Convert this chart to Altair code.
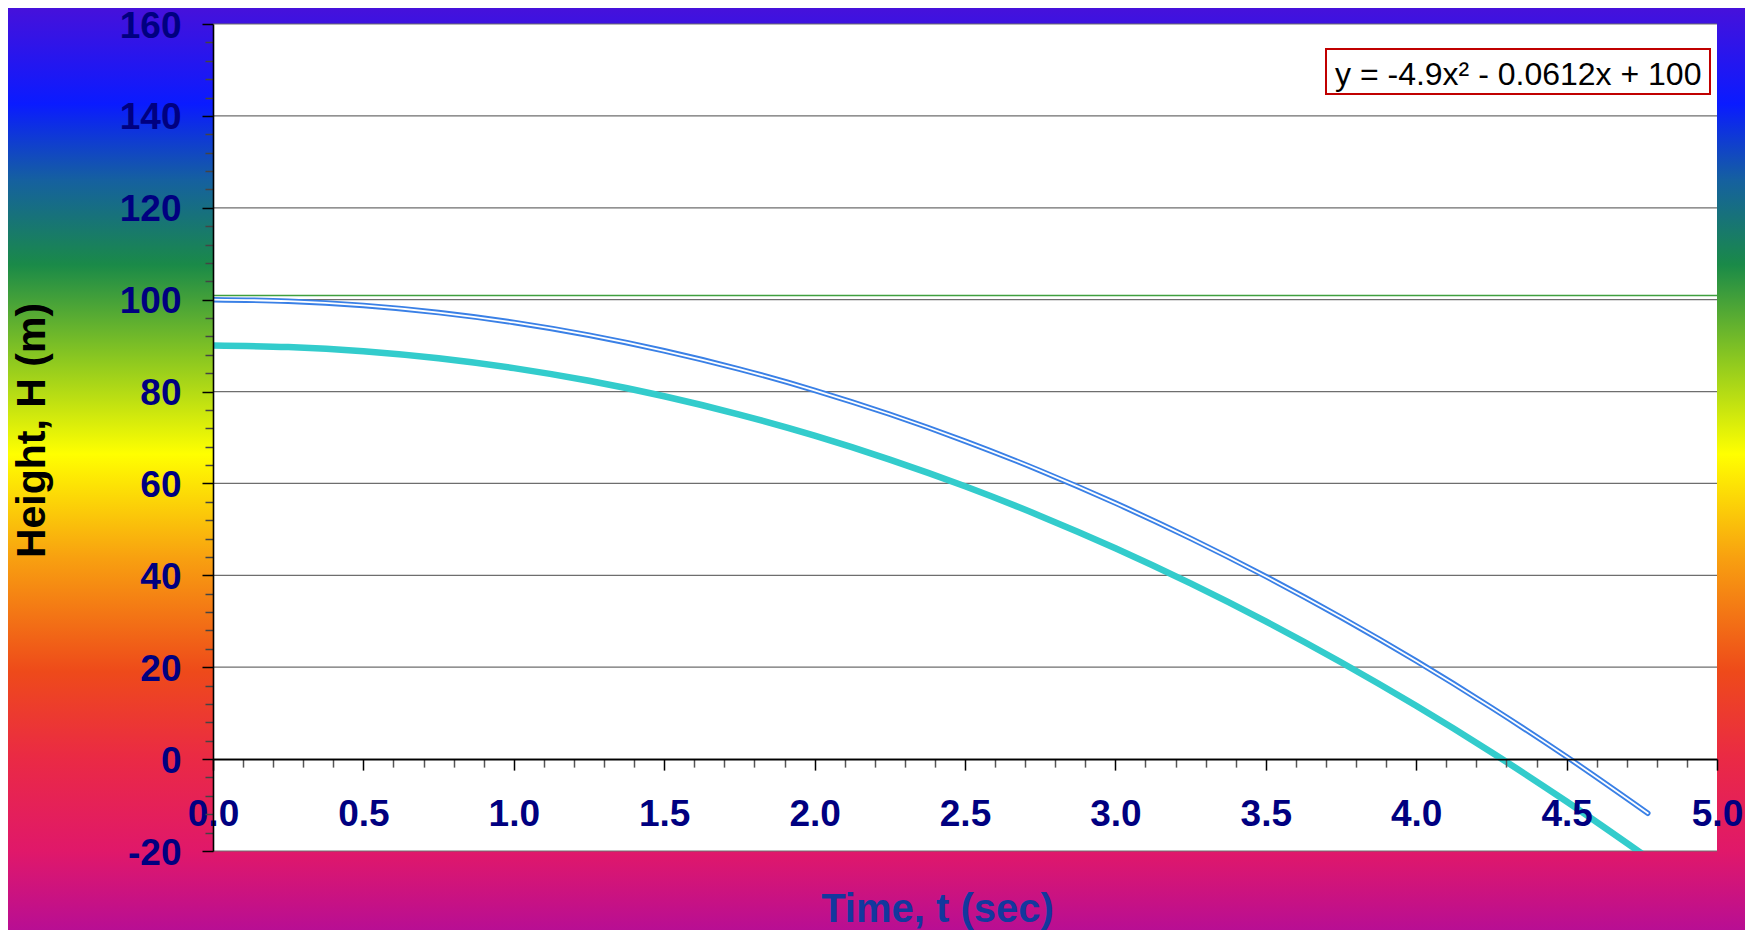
import altair as alt
import pandas as pd

# ---------------- data ----------------
time_blue = [0.0, 0.25, 0.5, 0.75, 1.0, 1.25, 1.5, 1.75, 2.0, 2.25, 2.5, 2.75,
             3.0, 3.25, 3.5, 3.75, 4.0, 4.25, 4.5, 4.77]
height_blue = [100.0, 99.68, 98.74, 97.20, 95.04, 92.27, 88.88, 84.89, 80.28, 75.06,
               69.22, 62.78, 55.72, 48.05, 39.76, 30.86, 21.36, 11.23, 0.50, -11.78]

time_cyan = [0.0, 0.25, 0.5, 0.75, 1.0, 1.25, 1.5, 1.75, 2.0, 2.25, 2.5, 2.75,
             3.0, 3.25, 3.5, 3.75, 4.0, 4.25, 4.5, 4.75]
height_cyan = [90.0, 89.69, 88.78, 87.24, 85.10, 82.34, 78.98, 74.99, 70.40, 65.19,
               59.38, 52.94, 45.90, 38.24, 29.98, 21.09, 11.60, 1.49, -9.23, -20.56]

green_level = [100.9]
grid_values = [-20, 0, 20, 40, 60, 80, 100, 120, 140, 160]
y_tick_values = list(range(-20, 161, 4))
x_tick_values = [round(i * 0.1, 1) for i in range(51)]
equation = "y = -4.9x\u00b2 - 0.0612x + 100"
x_title = "Time, t (sec)"
y_title = "Height, H (m)"

# ---------------- layout ----------------
W, H = 1504, 827
PAD_L, PAD_T = 205, 16
CANVAS_W, CANVAS_H = 1737, 922
FONT = "Liberation Sans"

xs = alt.Scale(domain=[0, 5], nice=False, zero=False)
ys = alt.Scale(domain=[-20, 160], nice=False, zero=False)
y_zero_px = H * 160 / 180

blue_df = pd.DataFrame({"t": time_blue, "h": height_blue})
cyan_df = pd.DataFrame({"t": time_cyan, "h": height_cyan})
grid_df = pd.DataFrame({"h": grid_values})
green_df = pd.DataFrame({"h": green_level})
one = pd.DataFrame({"k": [0]})

gradient = alt.Gradient(
    gradient="linear",
    x1=0, y1=0, x2=0, y2=1,
    stops=[
        alt.GradientStop(color="#4B10D8", offset=0.0),
        alt.GradientStop(color="#0A1BFF", offset=0.11),
        alt.GradientStop(color="#1560A0", offset=0.19),
        alt.GradientStop(color="#1A8A48", offset=0.28),
        alt.GradientStop(color="#8CC820", offset=0.38),
        alt.GradientStop(color="#FFFF00", offset=0.48),
        alt.GradientStop(color="#F8A010", offset=0.59),
        alt.GradientStop(color="#EE4A1A", offset=0.71),
        alt.GradientStop(color="#EA2A44", offset=0.80),
        alt.GradientStop(color="#E0186A", offset=0.90),
        alt.GradientStop(color="#B00C9C", offset=1.0),
    ],
)

x_major = "abs(datum.value*2 - round(datum.value*2)) < 0.001"
y_major = "datum.value % 20 === 0"

x_axis = alt.Axis(
    orient="bottom", offset=y_zero_px - H, values=x_tick_values,
    labelExpr=f"{x_major} ? format(datum.value, '.1f') : ''",
    labelOverlap=False, labelFlush=False, labelBound=False,
    labelFont=FONT, labelFontSize=37, labelFontWeight="bold", labelColor="#000080",
    labelPadding=26, labelBaseline="top",
    tickSize={"condition": {"test": x_major, "value": 11}, "value": 8},
    tickColor={"condition": {"test": x_major, "value": "#000000"}, "value": "#555555"},
    tickWidth=1.5,
    domainColor="#000000", domainWidth=1.6, grid=False,
    title=x_title, titleFont=FONT, titleFontSize=40, titleFontWeight="bold",
    titleColor="#13389E", titleX=724, titleY=(921 - 24) - y_zero_px,
    titleAlign="center", titleBaseline="alphabetic", titleAnchor="middle",
    zindex=1,
)

y_axis = alt.Axis(
    orient="left", values=y_tick_values,
    labelExpr=f"{y_major} ? ('' + datum.value) : ''",
    labelOverlap=False, labelFlush=False, labelBound=False,
    labelFont=FONT, labelFontSize=37, labelFontWeight="bold", labelColor="#000080",
    labelPadding=21, labelBaseline="middle", labelOffset=2,
    tickSize={"condition": {"test": y_major, "value": 11}, "value": 8},
    tickColor={"condition": {"test": y_major, "value": "#000000"}, "value": "#444444"},
    tickWidth=1.5,
    domainColor="#000000", domainWidth=1.6, grid=False,
    title=y_title, titleFont=FONT, titleFontSize=41, titleFontWeight="bold",
    titleColor="#000000", titleAngle=270, titleX=44 - 213, titleY=430 - 24,
    titleAlign="center", titleBaseline="alphabetic", titleAnchor="middle",
    zindex=1,
)

X = alt.X("t:Q", scale=xs, axis=x_axis)
Y = alt.Y("h:Q", scale=ys, axis=y_axis)

bg = alt.Chart(one).mark_rect(color=gradient).encode(
    x=alt.value(-PAD_L - 8), x2=alt.value(CANVAS_W - PAD_L + 16),
    y=alt.value(-PAD_T - 8), y2=alt.value(CANVAS_H - PAD_T + 16),
)

plot_bg = alt.Chart(one).mark_rect(color="white").encode(
    x=alt.value(0), x2=alt.value(W), y=alt.value(0), y2=alt.value(H)
)

grid = alt.Chart(grid_df).mark_rule(color="#6E6E6E", strokeWidth=1.2).encode(
    y=Y, x=alt.value(0), x2=alt.value(W),
)

green = alt.Chart(green_df).mark_rule(color="#3FA03F", strokeWidth=1.6).encode(
    y=Y, x=alt.value(0), x2=alt.value(W),
)

cyan = alt.Chart(cyan_df).mark_line(
    color="#33CCCC", strokeWidth=6.5, interpolate="monotone", clip=True,
    strokeCap="butt", strokeJoin="round"
).encode(x=X, y=Y)

blue_outer = alt.Chart(blue_df).mark_line(
    color="#3A80E6", strokeWidth=5.5, interpolate="monotone", clip=True,
    strokeCap="round", strokeJoin="round"
).encode(x=X, y=Y)

blue_inner = alt.Chart(blue_df).mark_line(
    color="white", strokeWidth=1.8, interpolate="monotone", clip=True,
    strokeCap="round", strokeJoin="round"
).encode(x=X, y=Y)

eq_box = alt.Chart(one).mark_rect(
    fill="white", stroke="#C00000", strokeWidth=2
).encode(
    x=alt.value(1326 - 213), x2=alt.value(1710 - 213),
    y=alt.value(49 - 24), y2=alt.value(94 - 24),
)

eq_text = alt.Chart(one).mark_text(
    text=equation, font=FONT, fontSize=32, color="#000000",
    align="left", baseline="alphabetic"
).encode(
    x=alt.value(1335 - 213), y=alt.value(84.5 - 24),
)

chart = alt.layer(
    bg, plot_bg, grid, green, cyan, blue_outer, blue_inner, eq_box, eq_text
).properties(
    width=W, height=H,
    padding={"left": PAD_L, "top": PAD_T,
             "right": CANVAS_W - PAD_L - W, "bottom": CANVAS_H - PAD_T - H},
    autosize=alt.AutoSizeParams(type="none"),
    background="#B00C9C",
).configure_view(stroke=None)

chart.save("out.html", embed_options={"renderer": "svg", "actions": False})
